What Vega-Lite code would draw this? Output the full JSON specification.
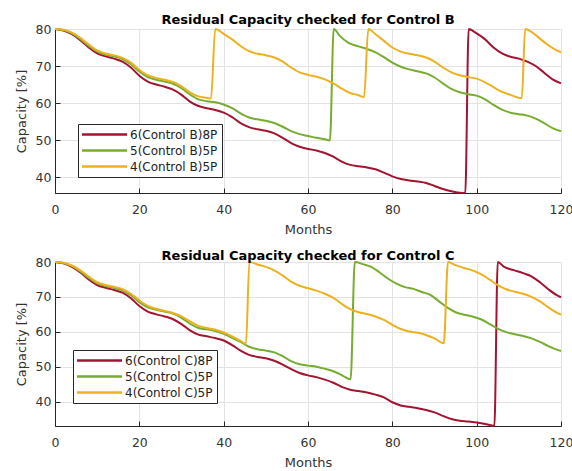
{
"$schema":"https://vega.github.io/schema/vega-lite/v6.json",
"padding":{"left":15,"top":14,"right":5,"bottom":5},
"spacing":13,
"config":{
 "view":{"stroke":null},
 "font":"DejaVu Sans",
 "axis":{"domainColor":"#262626","tickColor":"#262626","gridColor":"#e3e3e3","labelFont":"DejaVu Sans","labelFontSize":12.5,"labelColor":"#333333","titleFont":"DejaVu Sans","titleFontSize":13,"titleFontWeight":"normal","titleColor":"#333333","tickSize":-5},
 "title":{"font":"DejaVu Sans","fontSize":13,"fontWeight":"bold","color":"#000000","anchor":"middle","frame":"group"},
 "legend":{"orient":"none","strokeColor":"#262626","fillColor":"#ffffff","padding":4,"symbolType":"M-4.5,0L4.5,0","symbolSize":100,"symbolOffset":16,"symbolStrokeWidth":2.5,"labelFont":"DejaVu Sans","labelFontSize":12,"labelColor":"#222222","labelOffset":19,"rowPadding":3,"title":null}
},
"datasets":{
"B":[
{"s":"6(Control B)8P","m":0,"v":80},{"s":"6(Control B)8P","m":2,"v":79.6},{"s":"6(Control B)8P","m":4,"v":78.6},{"s":"6(Control B)8P","m":6,"v":77},{"s":"6(Control B)8P","m":8,"v":75},{"s":"6(Control B)8P","m":10,"v":73.4},{"s":"6(Control B)8P","m":12,"v":72.6},{"s":"6(Control B)8P","m":14,"v":72},{"s":"6(Control B)8P","m":16,"v":71.2},{"s":"6(Control B)8P","m":18,"v":69.6},{"s":"6(Control B)8P","m":20,"v":67.4},{"s":"6(Control B)8P","m":22,"v":65.8},{"s":"6(Control B)8P","m":24,"v":65},{"s":"6(Control B)8P","m":26,"v":64.4},{"s":"6(Control B)8P","m":28,"v":63.6},{"s":"6(Control B)8P","m":30,"v":62.2},{"s":"6(Control B)8P","m":32,"v":60.4},{"s":"6(Control B)8P","m":34,"v":59.2},{"s":"6(Control B)8P","m":36,"v":58.6},{"s":"6(Control B)8P","m":38,"v":58.1},{"s":"6(Control B)8P","m":40,"v":57.4},{"s":"6(Control B)8P","m":42,"v":56.2},{"s":"6(Control B)8P","m":44,"v":54.6},{"s":"6(Control B)8P","m":46,"v":53.5},{"s":"6(Control B)8P","m":48,"v":52.9},{"s":"6(Control B)8P","m":50,"v":52.5},{"s":"6(Control B)8P","m":52,"v":51.8},{"s":"6(Control B)8P","m":54,"v":50.6},{"s":"6(Control B)8P","m":56,"v":49.2},{"s":"6(Control B)8P","m":58,"v":48.2},{"s":"6(Control B)8P","m":60,"v":47.6},{"s":"6(Control B)8P","m":62,"v":47.2},{"s":"6(Control B)8P","m":64,"v":46.5},{"s":"6(Control B)8P","m":66,"v":45.5},{"s":"6(Control B)8P","m":68,"v":44.2},{"s":"6(Control B)8P","m":70,"v":43.3},{"s":"6(Control B)8P","m":72,"v":42.9},{"s":"6(Control B)8P","m":74,"v":42.6},{"s":"6(Control B)8P","m":76,"v":42.1},{"s":"6(Control B)8P","m":78,"v":41.2},{"s":"6(Control B)8P","m":80,"v":40.2},{"s":"6(Control B)8P","m":82,"v":39.5},{"s":"6(Control B)8P","m":84,"v":39.1},{"s":"6(Control B)8P","m":86,"v":38.8},{"s":"6(Control B)8P","m":88,"v":38.4},{"s":"6(Control B)8P","m":90,"v":37.6},{"s":"6(Control B)8P","m":92,"v":36.8},{"s":"6(Control B)8P","m":94,"v":36.2},{"s":"6(Control B)8P","m":96,"v":35.8},{"s":"6(Control B)8P","m":97.3,"v":35.7},{"s":"6(Control B)8P","m":98.1,"v":80},{"s":"6(Control B)8P","m":100,"v":78.8},{"s":"6(Control B)8P","m":102,"v":77.2},{"s":"6(Control B)8P","m":104,"v":75},{"s":"6(Control B)8P","m":106,"v":73.4},{"s":"6(Control B)8P","m":108,"v":72.5},{"s":"6(Control B)8P","m":110,"v":72},{"s":"6(Control B)8P","m":112,"v":71.2},{"s":"6(Control B)8P","m":114,"v":70},{"s":"6(Control B)8P","m":116,"v":68.2},{"s":"6(Control B)8P","m":118,"v":66.4},{"s":"6(Control B)8P","m":120,"v":65.3},
{"s":"5(Control B)5P","m":0,"v":80},{"s":"5(Control B)5P","m":2,"v":79.7},{"s":"5(Control B)5P","m":4,"v":78.8},{"s":"5(Control B)5P","m":6,"v":77.3},{"s":"5(Control B)5P","m":8,"v":75.4},{"s":"5(Control B)5P","m":10,"v":73.9},{"s":"5(Control B)5P","m":12,"v":73.1},{"s":"5(Control B)5P","m":14,"v":72.6},{"s":"5(Control B)5P","m":16,"v":71.9},{"s":"5(Control B)5P","m":18,"v":70.5},{"s":"5(Control B)5P","m":20,"v":68.5},{"s":"5(Control B)5P","m":22,"v":67},{"s":"5(Control B)5P","m":24,"v":66.3},{"s":"5(Control B)5P","m":26,"v":65.8},{"s":"5(Control B)5P","m":28,"v":65.2},{"s":"5(Control B)5P","m":30,"v":64},{"s":"5(Control B)5P","m":32,"v":62.3},{"s":"5(Control B)5P","m":34,"v":61},{"s":"5(Control B)5P","m":36,"v":60.5},{"s":"5(Control B)5P","m":38,"v":60.2},{"s":"5(Control B)5P","m":40,"v":59.6},{"s":"5(Control B)5P","m":42,"v":58.6},{"s":"5(Control B)5P","m":44,"v":57.2},{"s":"5(Control B)5P","m":46,"v":56.1},{"s":"5(Control B)5P","m":48,"v":55.6},{"s":"5(Control B)5P","m":50,"v":55.2},{"s":"5(Control B)5P","m":52,"v":54.6},{"s":"5(Control B)5P","m":54,"v":53.6},{"s":"5(Control B)5P","m":56,"v":52.4},{"s":"5(Control B)5P","m":58,"v":51.6},{"s":"5(Control B)5P","m":60,"v":51.1},{"s":"5(Control B)5P","m":62,"v":50.6},{"s":"5(Control B)5P","m":64,"v":50.2},{"s":"5(Control B)5P","m":65.2,"v":49.9},{"s":"5(Control B)5P","m":66.1,"v":80},{"s":"5(Control B)5P","m":67.5,"v":78.2},{"s":"5(Control B)5P","m":69.5,"v":76.3},{"s":"5(Control B)5P","m":72,"v":75.3},{"s":"5(Control B)5P","m":74,"v":74.6},{"s":"5(Control B)5P","m":76,"v":73.7},{"s":"5(Control B)5P","m":78,"v":72.4},{"s":"5(Control B)5P","m":80,"v":70.9},{"s":"5(Control B)5P","m":82,"v":69.8},{"s":"5(Control B)5P","m":84,"v":69.1},{"s":"5(Control B)5P","m":86,"v":68.6},{"s":"5(Control B)5P","m":88,"v":68},{"s":"5(Control B)5P","m":90,"v":66.9},{"s":"5(Control B)5P","m":92,"v":65.3},{"s":"5(Control B)5P","m":94,"v":63.8},{"s":"5(Control B)5P","m":96,"v":62.9},{"s":"5(Control B)5P","m":98,"v":62.4},{"s":"5(Control B)5P","m":100,"v":62},{"s":"5(Control B)5P","m":102,"v":61},{"s":"5(Control B)5P","m":104,"v":59.5},{"s":"5(Control B)5P","m":106,"v":58.2},{"s":"5(Control B)5P","m":108,"v":57.4},{"s":"5(Control B)5P","m":110,"v":57},{"s":"5(Control B)5P","m":112,"v":56.6},{"s":"5(Control B)5P","m":114,"v":55.8},{"s":"5(Control B)5P","m":116,"v":54.6},{"s":"5(Control B)5P","m":118,"v":53.2},{"s":"5(Control B)5P","m":120,"v":52.4},
{"s":"4(Control B)5P","m":0,"v":80},{"s":"4(Control B)5P","m":2,"v":79.8},{"s":"4(Control B)5P","m":4,"v":79},{"s":"4(Control B)5P","m":6,"v":77.6},{"s":"4(Control B)5P","m":8,"v":75.8},{"s":"4(Control B)5P","m":10,"v":74.2},{"s":"4(Control B)5P","m":12,"v":73.4},{"s":"4(Control B)5P","m":14,"v":72.9},{"s":"4(Control B)5P","m":16,"v":72.2},{"s":"4(Control B)5P","m":18,"v":70.9},{"s":"4(Control B)5P","m":20,"v":69},{"s":"4(Control B)5P","m":22,"v":67.5},{"s":"4(Control B)5P","m":24,"v":66.8},{"s":"4(Control B)5P","m":26,"v":66.3},{"s":"4(Control B)5P","m":28,"v":65.7},{"s":"4(Control B)5P","m":30,"v":64.5},{"s":"4(Control B)5P","m":32,"v":62.9},{"s":"4(Control B)5P","m":34,"v":61.8},{"s":"4(Control B)5P","m":36,"v":61.4},{"s":"4(Control B)5P","m":37,"v":61.2},{"s":"4(Control B)5P","m":38,"v":80},{"s":"4(Control B)5P","m":40,"v":78.7},{"s":"4(Control B)5P","m":42,"v":77.2},{"s":"4(Control B)5P","m":44,"v":75.4},{"s":"4(Control B)5P","m":46,"v":74},{"s":"4(Control B)5P","m":48,"v":73.3},{"s":"4(Control B)5P","m":50,"v":72.9},{"s":"4(Control B)5P","m":52,"v":72.3},{"s":"4(Control B)5P","m":54,"v":71.2},{"s":"4(Control B)5P","m":56,"v":69.6},{"s":"4(Control B)5P","m":58,"v":68.3},{"s":"4(Control B)5P","m":60,"v":67.6},{"s":"4(Control B)5P","m":62,"v":67.1},{"s":"4(Control B)5P","m":64,"v":66.4},{"s":"4(Control B)5P","m":66,"v":65.3},{"s":"4(Control B)5P","m":68,"v":63.9},{"s":"4(Control B)5P","m":70,"v":62.7},{"s":"4(Control B)5P","m":72,"v":62.1},{"s":"4(Control B)5P","m":73.3,"v":61.6},{"s":"4(Control B)5P","m":74.3,"v":80},{"s":"4(Control B)5P","m":76,"v":78.6},{"s":"4(Control B)5P","m":78,"v":76.8},{"s":"4(Control B)5P","m":80,"v":75},{"s":"4(Control B)5P","m":82,"v":73.9},{"s":"4(Control B)5P","m":84,"v":73.3},{"s":"4(Control B)5P","m":86,"v":72.9},{"s":"4(Control B)5P","m":88,"v":72.3},{"s":"4(Control B)5P","m":90,"v":71.2},{"s":"4(Control B)5P","m":92,"v":69.6},{"s":"4(Control B)5P","m":94,"v":68.3},{"s":"4(Control B)5P","m":96,"v":67.5},{"s":"4(Control B)5P","m":98,"v":67},{"s":"4(Control B)5P","m":100,"v":66.6},{"s":"4(Control B)5P","m":102,"v":65.6},{"s":"4(Control B)5P","m":104,"v":64.3},{"s":"4(Control B)5P","m":106,"v":63},{"s":"4(Control B)5P","m":108,"v":62.2},{"s":"4(Control B)5P","m":110.7,"v":61.3},{"s":"4(Control B)5P","m":111.5,"v":80},{"s":"4(Control B)5P","m":113,"v":79.2},{"s":"4(Control B)5P","m":115,"v":77.4},{"s":"4(Control B)5P","m":117,"v":75.6},{"s":"4(Control B)5P","m":119,"v":74.2},{"s":"4(Control B)5P","m":120,"v":73.7}
],
"C":[
{"s":"6(Control C)8P","m":0,"v":80},{"s":"6(Control C)8P","m":2,"v":79.6},{"s":"6(Control C)8P","m":4,"v":78.6},{"s":"6(Control C)8P","m":6,"v":77},{"s":"6(Control C)8P","m":8,"v":75},{"s":"6(Control C)8P","m":10,"v":73.4},{"s":"6(Control C)8P","m":12,"v":72.6},{"s":"6(Control C)8P","m":14,"v":72},{"s":"6(Control C)8P","m":16,"v":71.2},{"s":"6(Control C)8P","m":18,"v":69.6},{"s":"6(Control C)8P","m":20,"v":67.4},{"s":"6(Control C)8P","m":22,"v":65.8},{"s":"6(Control C)8P","m":24,"v":65},{"s":"6(Control C)8P","m":26,"v":64.4},{"s":"6(Control C)8P","m":28,"v":63.6},{"s":"6(Control C)8P","m":30,"v":62.2},{"s":"6(Control C)8P","m":32,"v":60.4},{"s":"6(Control C)8P","m":34,"v":59.2},{"s":"6(Control C)8P","m":36,"v":58.7},{"s":"6(Control C)8P","m":38,"v":58.2},{"s":"6(Control C)8P","m":40,"v":57.5},{"s":"6(Control C)8P","m":42,"v":56.2},{"s":"6(Control C)8P","m":44,"v":54.6},{"s":"6(Control C)8P","m":46,"v":53.4},{"s":"6(Control C)8P","m":48,"v":52.8},{"s":"6(Control C)8P","m":50,"v":52.4},{"s":"6(Control C)8P","m":52,"v":51.7},{"s":"6(Control C)8P","m":54,"v":50.6},{"s":"6(Control C)8P","m":56,"v":49.3},{"s":"6(Control C)8P","m":58,"v":48.2},{"s":"6(Control C)8P","m":60,"v":47.5},{"s":"6(Control C)8P","m":62,"v":47},{"s":"6(Control C)8P","m":64,"v":46.3},{"s":"6(Control C)8P","m":66,"v":45.4},{"s":"6(Control C)8P","m":68,"v":44.2},{"s":"6(Control C)8P","m":70,"v":43.4},{"s":"6(Control C)8P","m":72,"v":43},{"s":"6(Control C)8P","m":74,"v":42.6},{"s":"6(Control C)8P","m":76,"v":42},{"s":"6(Control C)8P","m":78,"v":41.2},{"s":"6(Control C)8P","m":80,"v":39.8},{"s":"6(Control C)8P","m":82,"v":38.9},{"s":"6(Control C)8P","m":84,"v":38.5},{"s":"6(Control C)8P","m":86,"v":38.1},{"s":"6(Control C)8P","m":88,"v":37.6},{"s":"6(Control C)8P","m":90,"v":36.9},{"s":"6(Control C)8P","m":92,"v":35.9},{"s":"6(Control C)8P","m":94,"v":35},{"s":"6(Control C)8P","m":96,"v":34.5},{"s":"6(Control C)8P","m":98,"v":34.3},{"s":"6(Control C)8P","m":100,"v":34},{"s":"6(Control C)8P","m":102,"v":33.6},{"s":"6(Control C)8P","m":104.2,"v":33},{"s":"6(Control C)8P","m":105,"v":80},{"s":"6(Control C)8P","m":106.5,"v":78.6},{"s":"6(Control C)8P","m":109,"v":77.6},{"s":"6(Control C)8P","m":111,"v":76.8},{"s":"6(Control C)8P","m":113,"v":75.9},{"s":"6(Control C)8P","m":115,"v":74.2},{"s":"6(Control C)8P","m":117,"v":72.2},{"s":"6(Control C)8P","m":119,"v":70.5},{"s":"6(Control C)8P","m":120,"v":69.9},
{"s":"5(Control C)5P","m":0,"v":80},{"s":"5(Control C)5P","m":2,"v":79.7},{"s":"5(Control C)5P","m":4,"v":78.8},{"s":"5(Control C)5P","m":6,"v":77.3},{"s":"5(Control C)5P","m":8,"v":75.4},{"s":"5(Control C)5P","m":10,"v":73.9},{"s":"5(Control C)5P","m":12,"v":73.1},{"s":"5(Control C)5P","m":14,"v":72.6},{"s":"5(Control C)5P","m":16,"v":71.9},{"s":"5(Control C)5P","m":18,"v":70.5},{"s":"5(Control C)5P","m":20,"v":68.5},{"s":"5(Control C)5P","m":22,"v":67},{"s":"5(Control C)5P","m":24,"v":66.3},{"s":"5(Control C)5P","m":26,"v":65.8},{"s":"5(Control C)5P","m":28,"v":65.2},{"s":"5(Control C)5P","m":30,"v":64},{"s":"5(Control C)5P","m":32,"v":62.3},{"s":"5(Control C)5P","m":34,"v":61.1},{"s":"5(Control C)5P","m":36,"v":60.7},{"s":"5(Control C)5P","m":38,"v":60.2},{"s":"5(Control C)5P","m":40,"v":59.4},{"s":"5(Control C)5P","m":42,"v":58.3},{"s":"5(Control C)5P","m":44,"v":57.1},{"s":"5(Control C)5P","m":46,"v":55.7},{"s":"5(Control C)5P","m":48,"v":55},{"s":"5(Control C)5P","m":50,"v":54.6},{"s":"5(Control C)5P","m":52,"v":54.1},{"s":"5(Control C)5P","m":54,"v":53},{"s":"5(Control C)5P","m":56,"v":51.6},{"s":"5(Control C)5P","m":58,"v":50.7},{"s":"5(Control C)5P","m":60,"v":50.3},{"s":"5(Control C)5P","m":62,"v":50},{"s":"5(Control C)5P","m":64,"v":49.4},{"s":"5(Control C)5P","m":66,"v":48.7},{"s":"5(Control C)5P","m":68,"v":47.6},{"s":"5(Control C)5P","m":70.1,"v":46.4},{"s":"5(Control C)5P","m":71.1,"v":80},{"s":"5(Control C)5P","m":73,"v":79.4},{"s":"5(Control C)5P","m":75,"v":78.6},{"s":"5(Control C)5P","m":77,"v":77},{"s":"5(Control C)5P","m":79,"v":75.2},{"s":"5(Control C)5P","m":81,"v":73.8},{"s":"5(Control C)5P","m":83,"v":72.8},{"s":"5(Control C)5P","m":85,"v":72.3},{"s":"5(Control C)5P","m":87,"v":71.4},{"s":"5(Control C)5P","m":89,"v":70.6},{"s":"5(Control C)5P","m":91,"v":68.8},{"s":"5(Control C)5P","m":93,"v":67},{"s":"5(Control C)5P","m":95,"v":65.6},{"s":"5(Control C)5P","m":97,"v":64.9},{"s":"5(Control C)5P","m":99,"v":64.4},{"s":"5(Control C)5P","m":101,"v":63.6},{"s":"5(Control C)5P","m":103,"v":62.3},{"s":"5(Control C)5P","m":105,"v":60.9},{"s":"5(Control C)5P","m":107,"v":59.9},{"s":"5(Control C)5P","m":109,"v":59.3},{"s":"5(Control C)5P","m":111,"v":58.8},{"s":"5(Control C)5P","m":113,"v":58.1},{"s":"5(Control C)5P","m":115,"v":57.1},{"s":"5(Control C)5P","m":117,"v":55.9},{"s":"5(Control C)5P","m":119,"v":54.9},{"s":"5(Control C)5P","m":120,"v":54.5},
{"s":"4(Control C)5P","m":0,"v":80},{"s":"4(Control C)5P","m":2,"v":79.8},{"s":"4(Control C)5P","m":4,"v":79},{"s":"4(Control C)5P","m":6,"v":77.6},{"s":"4(Control C)5P","m":8,"v":75.8},{"s":"4(Control C)5P","m":10,"v":74.2},{"s":"4(Control C)5P","m":12,"v":73.4},{"s":"4(Control C)5P","m":14,"v":72.9},{"s":"4(Control C)5P","m":16,"v":72.2},{"s":"4(Control C)5P","m":18,"v":70.9},{"s":"4(Control C)5P","m":20,"v":69},{"s":"4(Control C)5P","m":22,"v":67.4},{"s":"4(Control C)5P","m":24,"v":66.6},{"s":"4(Control C)5P","m":26,"v":66},{"s":"4(Control C)5P","m":28,"v":65.4},{"s":"4(Control C)5P","m":30,"v":64.4},{"s":"4(Control C)5P","m":32,"v":63},{"s":"4(Control C)5P","m":34,"v":61.7},{"s":"4(Control C)5P","m":36,"v":61.1},{"s":"4(Control C)5P","m":38,"v":60.6},{"s":"4(Control C)5P","m":40,"v":59.8},{"s":"4(Control C)5P","m":42,"v":58.7},{"s":"4(Control C)5P","m":44,"v":57.4},{"s":"4(Control C)5P","m":45.3,"v":56.6},{"s":"4(Control C)5P","m":46.1,"v":80},{"s":"4(Control C)5P","m":48,"v":79.3},{"s":"4(Control C)5P","m":50,"v":78.6},{"s":"4(Control C)5P","m":52,"v":77.6},{"s":"4(Control C)5P","m":54,"v":76.1},{"s":"4(Control C)5P","m":56,"v":74.4},{"s":"4(Control C)5P","m":58,"v":73.2},{"s":"4(Control C)5P","m":60,"v":72.5},{"s":"4(Control C)5P","m":62,"v":71.8},{"s":"4(Control C)5P","m":64,"v":70.9},{"s":"4(Control C)5P","m":66,"v":69.7},{"s":"4(Control C)5P","m":68,"v":68},{"s":"4(Control C)5P","m":70,"v":66.5},{"s":"4(Control C)5P","m":72,"v":65.6},{"s":"4(Control C)5P","m":74,"v":65.1},{"s":"4(Control C)5P","m":76,"v":64.4},{"s":"4(Control C)5P","m":78,"v":63.4},{"s":"4(Control C)5P","m":80,"v":62},{"s":"4(Control C)5P","m":82,"v":60.8},{"s":"4(Control C)5P","m":84,"v":60.1},{"s":"4(Control C)5P","m":86,"v":59.7},{"s":"4(Control C)5P","m":88,"v":59.1},{"s":"4(Control C)5P","m":90,"v":58.1},{"s":"4(Control C)5P","m":92.2,"v":56.7},{"s":"4(Control C)5P","m":93.2,"v":80},{"s":"4(Control C)5P","m":95,"v":79.1},{"s":"4(Control C)5P","m":97,"v":78.3},{"s":"4(Control C)5P","m":99,"v":77.6},{"s":"4(Control C)5P","m":101,"v":76.5},{"s":"4(Control C)5P","m":103,"v":75},{"s":"4(Control C)5P","m":105,"v":73.4},{"s":"4(Control C)5P","m":107,"v":72.2},{"s":"4(Control C)5P","m":109,"v":71.5},{"s":"4(Control C)5P","m":111,"v":70.9},{"s":"4(Control C)5P","m":113,"v":70},{"s":"4(Control C)5P","m":115,"v":68.7},{"s":"4(Control C)5P","m":117,"v":67},{"s":"4(Control C)5P","m":119,"v":65.5},{"s":"4(Control C)5P","m":120,"v":64.9}
]
},
"resolve":{"scale":{"color":"independent"},"legend":{"color":"independent"}},
"vconcat":[
{
 "title":{"text":"Residual Capacity checked for Control B","offset":-4},
 "width":506,"height":164,
 "data":{"name":"B"},
 "mark":{"type":"line","interpolate":"monotone","strokeWidth":2},
 "encoding":{
  "x":{"field":"m","type":"quantitative","scale":{"domain":[0,120],"nice":false},"axis":{"title":"Months","values":[0,20,40,60,80,100,120],"grid":true,"labelPadding":15,"titlePadding":8,"labelFlush":false}},
  "y":{"field":"v","type":"quantitative","scale":{"domain":[35.7,80],"nice":false,"zero":false},"axis":{"title":"Capacity [%]","values":[40,50,60,70,80],"grid":true,"labelPadding":9,"titlePadding":7}},
  "color":{"field":"s","type":"nominal","scale":{"domain":["6(Control B)8P","5(Control B)5P","4(Control B)5P"],"range":["#A2142F","#77AC30","#EDB120"]},"legend":{"legendX":23,"legendY":95}},
  "order":{"field":"m","type":"quantitative"}
 }
},
{
 "title":{"text":"Residual Capacity checked for Control C","offset":-7},
 "width":506,"height":164,
 "data":{"name":"C"},
 "mark":{"type":"line","interpolate":"monotone","strokeWidth":2},
 "encoding":{
  "x":{"field":"m","type":"quantitative","scale":{"domain":[0,120],"nice":false},"axis":{"title":"Months","values":[0,20,40,60,80,100,120],"grid":true,"labelPadding":15,"titlePadding":8,"labelFlush":false}},
  "y":{"field":"v","type":"quantitative","scale":{"domain":[33,80],"nice":false,"zero":false},"axis":{"title":"Capacity [%]","values":[40,50,60,70,80],"grid":true,"labelPadding":9,"titlePadding":7}},
  "color":{"field":"s","type":"nominal","scale":{"domain":["6(Control C)8P","5(Control C)5P","4(Control C)5P"],"range":["#A2142F","#77AC30","#EDB120"]},"legend":{"legendX":18,"legendY":88}},
  "order":{"field":"m","type":"quantitative"}
 }
}
]
}
